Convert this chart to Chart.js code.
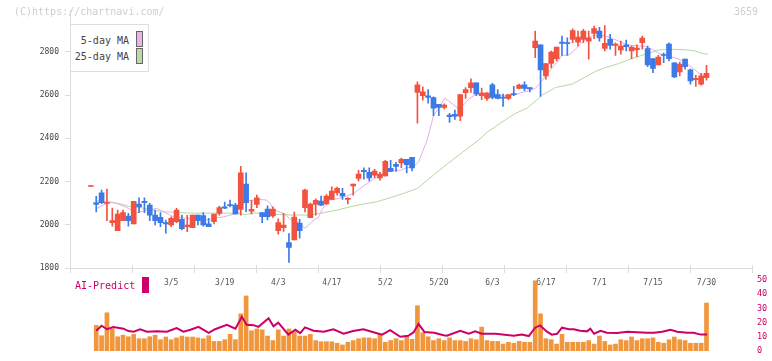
<!DOCTYPE html>
<html>
<head>
<meta charset="utf-8">
<script src="https://cdn.jsdelivr.net/npm/chart.js@4.4.1/dist/chart.umd.min.js"></script>
<style>
  body { margin: 0; background: #fff; overflow: hidden; }
  #wrap { position: relative; width: 772px; height: 361px; font-family: "DejaVu Sans Mono", monospace; }
  canvas { position: absolute; left: 0; }
  .t { position: absolute; white-space: nowrap; font-size: 10px; line-height: 12px; }
  .sw { position: absolute; box-sizing: border-box; }
</style>
</head>
<body>
<div id="wrap">
  <canvas id="main" width="772" height="361" style="top:0"></canvas>
  <canvas id="sub" width="772" height="91" style="top:270px"></canvas>
  <div class="t" style="left:14px;top:6px;color:#cfcfcf">(C)https://chartnavi.com/</div>
  <div class="t" style="left:734px;top:6px;color:#cfcfcf">3659</div>
  <div class="sw" style="left:70px;top:24px;width:79px;height:48px;border:1px solid #dedede;background:#fff"></div>
  <div class="t" style="right:643px;top:35px;color:#444">5-day MA</div>
  <div class="sw" style="left:136px;top:31px;width:7px;height:16px;border:1px solid #666;background:#e9b4e9"></div>
  <div class="t" style="right:643px;top:51px;color:#444">25-day MA</div>
  <div class="sw" style="left:136px;top:48px;width:7px;height:16px;border:1px solid #666;background:#badba9"></div>
  <div class="t" style="left:75px;top:280px;color:#cc0066">AI-Predict</div>
  <div class="sw" style="left:142px;top:277px;width:7px;height:16px;background:#cc0066"></div>
</div>
<script>
// ---- data ----
const openP  = [2177,2103,2148,2099,2010,1973,2019,2040,2004,2096,2109,2091,2045,2034,2010,1999,2014,2025,1991,1987,
                2045,2042,2004,2014,2053,2083,2094,2091,2071,2188,2063,2094,2056,2073,2041,1973,1987,1918,1930,2008,
                2079,2033,2094,2110,2096,2117,2148,2145,2117,2180,2214,2252,2243,2229,2217,2226,2261,2280,2286,2303,
                2312,2612,2597,2597,2588,2557,2543,2508,2511,2502,2611,2634,2657,2597,2585,2648,2602,2591,2585,2606,
                2631,2648,2635,2819,2832,2689,2747,2769,2845,2842,2858,2845,2858,2850,2885,2896,2816,2858,2830,2809,
                2833,2804,2810,2842,2815,2769,2740,2787,2836,2749,2707,2767,2717,2671,2651,2681];
const highP  = [2177,2132,2160,2165,2077,2068,2068,2053,2109,2125,2125,2099,2068,2056,2022,2037,2076,2045,2044,2045,
                2045,2056,2030,2050,2086,2105,2114,2099,2270,2240,2114,2137,2056,2088,2083,2027,2053,1959,2059,2025,
                2165,2100,2120,2133,2140,2175,2174,2169,2126,2188,2252,2263,2263,2257,2243,2298,2298,2289,2309,2303,
                2312,2661,2638,2625,2592,2557,2559,2516,2531,2602,2635,2675,2657,2632,2612,2654,2625,2605,2602,2640,
                2651,2661,2635,2896,2832,2746,2804,2822,2873,2865,2907,2896,2904,2896,2919,2914,2922,2881,2842,2850,
                2855,2827,2832,2873,2827,2769,2784,2796,2842,2749,2753,2767,2720,2692,2701,2738];
const lowP   = [2177,2060,2098,2019,1994,1973,2019,1994,2004,2056,2056,2019,1999,1991,1961,1991,2010,1976,1968,1987,
                1999,1994,1991,2004,2045,2074,2083,2050,2045,2060,2050,2079,2010,2022,2034,1956,1969,1826,1930,1938,
                2060,2033,2045,2088,2094,2117,2137,2117,2096,2137,2203,2211,2203,2218,2206,2225,2247,2247,2264,2240,
                2249,2470,2577,2563,2505,2505,2536,2474,2487,2482,2585,2612,2597,2579,2575,2582,2582,2548,2579,2597,
                2628,2620,2615,2773,2594,2674,2727,2758,2784,2784,2842,2827,2842,2766,2861,2850,2804,2812,2784,2789,
                2804,2769,2778,2812,2732,2704,2740,2750,2758,2681,2689,2720,2651,2640,2646,2669];
const closeP = [2177,2094,2102,2103,2019,2050,2056,2019,2109,2083,2102,2045,2019,2010,2004,2030,2068,1982,1999,2045,
                2019,1999,1991,2050,2079,2077,2088,2050,2240,2102,2071,2125,2037,2037,2073,2010,1999,1895,2036,1973,
                2160,2096,2113,2091,2133,2156,2169,2134,2122,2188,2234,2246,2217,2248,2234,2293,2247,2270,2303,2278,
                2263,2648,2615,2589,2539,2543,2554,2500,2502,2602,2625,2657,2606,2609,2609,2589,2585,2586,2602,2602,
                2646,2631,2628,2850,2717,2746,2799,2822,2839,2838,2899,2868,2896,2865,2908,2865,2839,2830,2836,2827,
                2824,2822,2818,2864,2740,2723,2776,2783,2769,2684,2743,2732,2666,2677,2689,2701];

// 5-day and 25-day moving averages (position in trading days, price)
const ma5Pos = [1.1,3.6,4.8,6.7,8.6,10.5,12.3,13.6,15.4,17.9,20.4,21.7,22.9,24.8,26.6,27.9,28.5,29.5,31.6,32.9,
                33.5,34.1,34.8,36,37.3,38.5,40,40.7,41.6,42.5,43.2,44.4,45.3,46.3,47.8,49.1,50.3,51.6,52.8,54.1,
                55.3,56.5,57.8,59,60.3,61.2,62.8,64,65,66.1,66.8,67.8,68.7,69.6,70.6,71.8,73.1,74.3,75.6,76.8,
                78,79.3,80.5,81.8,83,84,85.2,86.2,87,88,89.3,90.2,91.1,92.4,93.6,94.9,96.1,97.4,98.6,99.9,
                101.1,102.4,103.6,104.9,106.1,107.3,108.6,109.8,111.1,112.3,113.6,114.5,115.3];
const ma5Val = [2076,2106,2099,2080,2056,2068,2076,2060,2037,2030,2025,2022,2030,2037,2048,2056,2099,2111,2117,2114,
                2099,2068,2064,2053,2025,2014,1984,1999,2022,2034,2071,2114,2117,2122,2133,2145,2168,2191,2211,2229,
                2244,2252,2252,2264,2270,2290,2390,2505,2540,2586,2574,2554,2536,2554,2582,2602,2609,2609,2605,2597,
                2597,2602,2612,2620,2631,2658,2697,2727,2750,2784,2786,2804,2827,2858,2873,2881,2873,2862,2850,2835,
                2830,2827,2824,2812,2793,2784,2776,2766,2750,2727,2701,2692,2692];
const ma25Pos = [1.1,5.2,7,8.6,11.4,13.9,17.8,20.7,23.9,26.5,28.8,30.5,33.5,37.3,41,43.5,46,48.4,50.9,53.4,
                 56,58.4,61,64,66.5,70.3,72.5,74,76.2,77.7,79.3,81.5,82.4,84.3,86.8,89.9,92.4,94.3,96.1,98.6,
                 101.1,103.6,106.1,108.6,111.1,112.9,114.1,115.3];
const ma25Val = [2111,2099,2086,2083,2068,2060,2055,2053,2055,2053,2047,2055,2050,2045,2045,2056,2068,2083,2096,2106,
                 2126,2145,2168,2230,2280,2352,2393,2428,2465,2490,2515,2540,2559,2600,2635,2651,2684,2710,2727,2746,
                 2769,2789,2809,2812,2810,2804,2793,2789];

// AI-Predict panel
const volume = [null,18,10.7,26.9,15.7,10,11.1,10,11.7,8.6,8.6,10,11.1,7.9,9.8,7.9,9.2,10.5,9.8,9.8,
                9.2,8.6,10.7,6.7,6.7,7.9,11.7,7.9,26.2,38.8,14.2,15.5,14.9,10.5,7.3,14.9,10.5,15.5,13.6,10.5,
                10.5,11.7,7.3,6.5,6.5,6.5,5.4,4.2,6.1,7.3,8.6,9.2,9.2,8.6,11.7,6.1,7.3,8.6,7.3,9.8,
                8.2,31.9,12.8,10,7.3,8.6,7.3,9.2,7.3,7.3,6.7,8.6,7.9,16.8,7.3,6.7,6.7,4.8,6.1,5.4,
                6.7,6.1,6.1,49.5,26.2,8.6,7.9,4.8,11.7,6.1,6.1,6.1,6.1,7.3,4.8,10.5,6.7,4.2,4.8,7.9,
                7.3,9.8,7.3,8.6,8.6,9.2,6.1,5.4,7.9,9.8,7.9,7.3,5.4,5.4,5.4,33.8];
const aiPos = [1,2,3,4.2,6.1,7,8,9.2,10.5,12.3,14.2,16,17.3,18.6,20.1,22,23.2,25.4,27,28.2,
               29.1,30.4,31.3,33.2,34.1,35,36.9,38.2,39.1,40,41.6,43.5,45.3,47.2,49,50.9,52.8,54.4,55.9,57.8,
               59.3,60.3,61.2,62.3,64.1,65.9,66.5,69,70.6,71.8,73,75.6,79,80.5,81.8,83,83.9,85.2,86.1,87.1,
               88,89.3,90.2,91.4,92.7,93.3,94,95.2,96.4,98.3,100.2,102,103.9,105.2,106.7,108.3,109.5,111.4,112.6,113.9,115.1];
const aiVal = [14.2,17.8,15.3,16.8,15.7,14,13.6,15.3,13.6,13.8,13.6,16.1,13.6,14.9,17,12.8,15.3,18.4,15.7,24.1,
               18.4,18.2,17,23.1,17.4,19.9,11.5,14.9,12.6,16.6,14.2,13.6,15.3,12.1,14,15.3,13.2,11.5,14.7,10,
               10.7,13.2,19.1,13.4,12.8,11.1,10.7,14.2,12.1,13.8,12.1,12.1,10.7,11.5,10.5,16.4,18,13.6,11.5,12.1,
               16.4,15.3,15.3,14.2,13.8,15.7,12.1,14.2,12.8,12.6,13.6,13.2,12.8,12.8,13.6,14.9,13.6,12.8,12.8,11.5,11.5];

const priceTicks = [1800,2000,2200,2400,2600,2800];
const volTicks = [0,10,20,30,40,50];
const dateIdx = [15,25,35,45,55,65,75,85,95,105,115];
const dateLabels = ['3/5','3/19','4/3','4/17','5/2','5/20','6/3','6/17','7/1','7/15','7/30'];

// ---- presentation ----
const UP = '#f25340', DOWN = '#3c7ae8';
const X_MIN = -3.9, X_MAX = 123.5;
const FONT = '"DejaVu Sans Mono", monospace';
const idx = closeP.map((_, i) => i);
const candleColor = ctx => {
  const i = ctx.dataIndex;
  return closeP[i] >= openP[i] ? UP : DOWN;
};

const tickMarks = {
  id: 'tickMarks',
  afterDraw(chart) {
    const {ctx, chartArea: a} = chart;
    ctx.save();
    ctx.strokeStyle = '#dcdcdc';
    ctx.lineWidth = 1;
    ctx.beginPath();
    ctx.moveTo(a.left - 5, a.bottom + 0.5);
    ctx.lineTo(a.left, a.bottom + 0.5);
    for (let k = 0; k <= 11; k++) {
      const x = Math.round(a.left + k * (a.right - a.left) / 11) + 0.5;
      ctx.moveTo(x, a.bottom - 3);
      ctx.lineTo(x, a.bottom + 5);
    }
    ctx.stroke();
    ctx.restore();
  }
};

new Chart(document.getElementById('main'), {
  type: 'bar',
  data: {
    datasets: [
      { label: 'body', data: idx.map(i => ({x: i, y: [openP[i], closeP[i]]})),
        backgroundColor: candleColor, barThickness: 5, minBarLength: 1, grouped: false, order: 0 },
      { label: 'wick', data: idx.map(i => ({x: i, y: [lowP[i], highP[i]]})),
        backgroundColor: candleColor, barThickness: 1, minBarLength: 1, grouped: false, order: 1 },
      { type: 'line', label: '5-day MA', data: ma5Pos.map((p, k) => ({x: p, y: ma5Val[k]})),
        borderColor: '#e6ace6', borderWidth: 1, pointRadius: 0, tension: 0, order: 2 },
      { type: 'line', label: '25-day MA', data: ma25Pos.map((p, k) => ({x: p, y: ma25Val[k]})),
        borderColor: '#b4d8a2', borderWidth: 1, pointRadius: 0, tension: 0, order: 3 }
    ]
  },
  options: {
    responsive: false, animation: false, devicePixelRatio: 1,
    layout: { padding: { top: 9.5, right: 20, left: 0, bottom: 0 } },
    plugins: { legend: { display: false }, tooltip: { enabled: false } },
    scales: {
      x: {
        type: 'linear', min: X_MIN, max: X_MAX, offset: false,
        afterBuildTicks: s => { s.ticks = dateIdx.map(v => ({value: v})); },
        afterFit: s => { s.height = 93; },
        grid: { display: false, drawTicks: false },
        border: { display: true, color: '#dcdcdc' },
        ticks: { autoSkip: false, maxRotation: 0, padding: 10, color: '#555', font: { family: FONT, size: 8 },
                 callback: v => dateLabels[dateIdx.indexOf(v)] }
      },
      y: {
        type: 'linear', position: 'left', min: 1800, max: 2990,
        afterBuildTicks: s => { s.ticks = priceTicks.map(v => ({value: v})); },
        afterFit: s => { s.width = 70; },
        grid: { drawOnChartArea: false, drawTicks: true, tickLength: 5, color: '#dcdcdc' },
        border: { display: true, color: '#dcdcdc' },
        ticks: { padding: 6, color: '#444', font: { family: FONT, size: 8 }, callback: v => String(v) }
      }
    }
  },
  plugins: [tickMarks]
});

new Chart(document.getElementById('sub'), {
  type: 'bar',
  data: {
    datasets: [
      { type: 'line', label: 'AI-Predict', data: aiPos.map((p, k) => ({x: p, y: aiVal[k]})),
        borderColor: '#cc0066', borderWidth: 2, pointRadius: 0, tension: 0, order: 0 },
      { label: 'volume', data: idx.map(i => ({x: i, y: volume[i]})),
        backgroundColor: '#f0963c', barThickness: 4, grouped: false, order: 1 }
    ]
  },
  options: {
    responsive: false, animation: false, devicePixelRatio: 1,
    layout: { padding: { top: 8.3, right: 0, left: 70, bottom: 3.3 } },
    plugins: { legend: { display: false }, tooltip: { enabled: false } },
    scales: {
      x: { type: 'linear', min: X_MIN, max: X_MAX, offset: false, display: false },
      y: {
        type: 'linear', position: 'right', min: 0, max: 50,
        afterBuildTicks: s => { s.ticks = volTicks.map(v => ({value: v})); },
        afterFit: s => { s.width = 20; },
        grid: { display: false, drawTicks: false },
        border: { display: false },
        ticks: { padding: 5, color: '#cc0066', font: { family: FONT, size: 8.5 }, callback: v => String(v) }
      }
    }
  }
});
</script>
</body>
</html>
